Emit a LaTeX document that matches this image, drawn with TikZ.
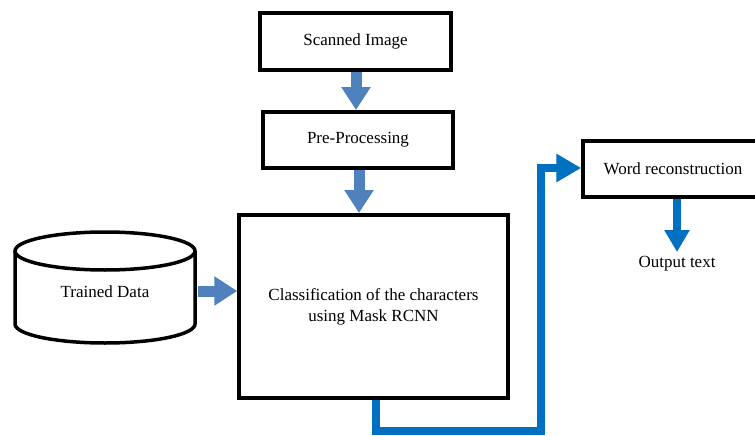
\documentclass[tikz,border=0pt]{standalone}
\usepackage{fontspec}
\setmainfont{Liberation Serif}
\usetikzlibrary{arrows.meta}
\definecolor{softblue}{HTML}{4F81BD}
\definecolor{deepblue}{HTML}{0070C0}
\tikzset{
  box/.style={draw=black, line width=3.5pt, rectangle, inner sep=0pt, align=center},
  softarrow/.style={draw=softblue, line width=11pt, -{Triangle[width=28pt,length=23pt]}},
  deeparrow/.style={draw=deepblue, line width=8pt, -{Triangle[width=24pt,length=22pt]}},
  bracketline/.style={draw=deepblue, line width=8pt, line join=miter, -{Triangle[width=27pt,length=25pt]}},
  txt/.style={inner sep=0pt, align=center}
}
\begin{document}
\begin{tikzpicture}[x=1pt, y=-1pt, font=\fontsize{17}{21}\selectfont]
\useasboundingbox (0,0) rectangle (755,436);
\begin{scope}
\clip (0,0) rectangle (755,436);
\node[box, minimum width=191pt, minimum height=57pt] (scan) at (355.5,41.5) {Scanned Image};
\node[box, minimum width=190pt, minimum height=56pt] (pre) at (358,140) {Pre-Processing};
\node[box, minimum width=269pt, minimum height=183pt] (cls) at (373.5,306.5) {Classification of the characters\\using Mask RCNN};
\node[box, minimum width=180pt, minimum height=56pt] (word) at (673,169) {Word reconstruction};
\node[txt] (out) at (677,264) {Output text};

% cylinder
\draw[line width=3.5pt, fill=white] (15,251) -- (15,324) arc[start angle=180, end angle=0, x radius=90, y radius=19] -- (195,251);
\draw[line width=3.5pt] (105,251) ellipse[x radius=90, y radius=19];
\node[txt] (train) at (105,292) {Trained Data};
\coordinate (trainR) at (198,291);

% arrows
\draw[softarrow] (scan.south -| 356,0) -- (356,110);
\draw[softarrow] (pre.south -| 359,0) -- (359,213);
\draw[softarrow] (trainR) -- (cls.west |- 0,291);
\draw[deeparrow] (word.south -| 677,0) -- (677,252);
\draw[bracketline] (376,400) -- (376,431) -- (541,431) -- (541,168) -- (word.west |- 0,168);
\end{scope}
\end{tikzpicture}
\end{document}
